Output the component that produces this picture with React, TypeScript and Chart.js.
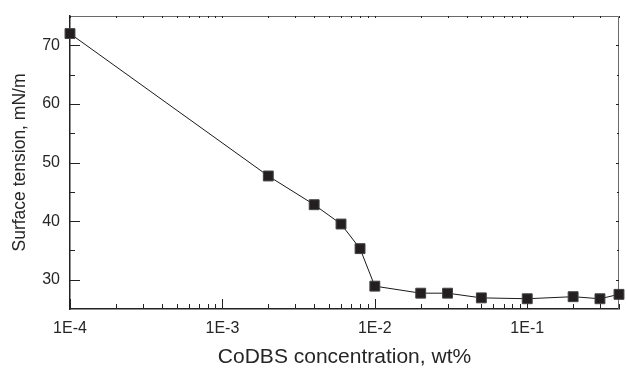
import React, { useEffect, useRef } from "react";
import { Chart, registerables } from "chart.js";

Chart.register(...registerables);

const concentrations = [1e-4, 2e-3, 4e-3, 6e-3, 8e-3, 1e-2, 2e-2, 3e-2, 5e-2, 1e-1, 2e-1, 3e-1, 4e-1];
const surfaceTension = [72, 47.7, 42.8, 39.5, 35.3, 28.9, 27.7, 27.7, 26.9, 26.75, 27.1, 26.75, 27.5];

const xTickValues = [1e-4, 1e-3, 1e-2, 1e-1];
const xTickLabels = ["1E-4", "1E-3", "1E-2", "1E-1"];
const yTickValues = [30, 40, 50, 60, 70];
const yMinorValues = [35, 45, 55, 65];
const xMin = 1e-4;
const xMax = 0.4;
const yMin = 25;
const yMax = 75;

const xTitle = "CoDBS concentration, wt%";
const yTitle = "Surface tension, mN/m";

const FONT = "'Liberation Sans', Arial, Helvetica, sans-serif";
const TEXT = "#262626";

function xMinorValues(): number[] {
  const out: number[] = [];
  for (let d = 1e-4; d < 1; d *= 10) {
    for (let m = 2; m <= 9; m++) {
      const v = m * d;
      if (v <= xMax * 1.0001) out.push(v);
    }
  }
  return out;
}

const tickPlugin = {
  id: "innerTicks",
  beforeDatasetsDraw(chart: any) {
    const { ctx, chartArea } = chart;
    const xs = chart.scales.x;
    const ys = chart.scales.y;
    const { left, right, top, bottom } = chartArea;
    ctx.save();
    ctx.strokeStyle = "#6a6a6a";
    ctx.lineWidth = 1;
    ctx.beginPath();
    ctx.moveTo(left, top + 0.5);
    ctx.lineTo(right - 0.5, top + 0.5);
    ctx.lineTo(right - 0.5, bottom);
    ctx.stroke();

    const drawX = (v: number, len: number, topLen: number) => {
      const px = Math.round(xs.getPixelForValue(v)) + 0.5;
      ctx.beginPath();
      ctx.moveTo(px, bottom);
      ctx.lineTo(px, bottom - len);
      ctx.stroke();
      ctx.beginPath();
      ctx.moveTo(px, top);
      ctx.lineTo(px, top + topLen);
      ctx.stroke();
    };
    const drawY = (v: number, len: number, rLen: number) => {
      const py = Math.round(ys.getPixelForValue(v)) + 0.5;
      ctx.beginPath();
      ctx.moveTo(left, py);
      ctx.lineTo(left + len, py);
      ctx.stroke();
      ctx.beginPath();
      ctx.moveTo(right, py);
      ctx.lineTo(right - rLen, py);
      ctx.stroke();
    };
    ctx.strokeStyle = "#222";
    ctx.lineWidth = 1;
    xTickValues.forEach((v) => drawX(v, 10, 2));
    xMinorValues().forEach((v) => drawX(v, 5, 2));
    yTickValues.forEach((v) => drawY(v, 10, 3));
    yMinorValues.forEach((v) => drawY(v, 5, 2));
    ctx.restore();
  },
};

export default function App() {
  const ref = useRef<HTMLCanvasElement | null>(null);
  useEffect(() => {
    if (!ref.current) return;
    const data = concentrations.map((x, i) => ({ x, y: surfaceTension[i] }));
    const chart = new Chart(ref.current, {
      type: "line",
      data: {
        datasets: [
          {
            data,
            borderColor: "#1a1a1a",
            borderWidth: 1,
            pointStyle: "rect",
            pointRadius: 7,
            pointBackgroundColor: "#231f20",
            pointBorderColor: "#444",
            pointBorderWidth: 1,
            tension: 0,
            clip: false as any,
          },
        ],
      },
      options: {
        responsive: false,
        animation: false,
        layout: { padding: { left: 0, top: 16, right: 1, bottom: 0 } },
        plugins: { legend: { display: false }, tooltip: { enabled: false } },
        scales: {
          x: {
            type: "logarithmic",
            min: xMin,
            max: xMax,
            grid: { display: false, drawTicks: false },
            border: { display: true, color: "#222", width: 1.5 },
            afterBuildTicks: (scale: any) => {
              scale.ticks = xTickValues.map((v) => ({ value: v }));
            },
            afterFit: (scale: any) => {
              scale.height = 59;
              scale.paddingLeft = 0;
              scale.paddingRight = 0;
            },
            ticks: {
              autoSkip: false,
              maxRotation: 0,
              padding: 10,
              color: TEXT,
              font: { family: FONT, size: 16 },
              callback: (v: any) => {
                const i = xTickValues.findIndex((t) => Math.abs(t - Number(v)) / t < 1e-6);
                return i >= 0 ? xTickLabels[i] : "";
              },
            },
            title: {
              display: true,
              text: xTitle,
              color: TEXT,
              font: { family: FONT, size: 21, lineHeight: 1 },
              padding: 0,
            },
          },
          y: {
            type: "linear",
            min: yMin,
            max: yMax,
            grid: { display: false, drawTicks: false },
            border: { display: true, color: "#222", width: 1.5 },
            afterBuildTicks: (scale: any) => {
              scale.ticks = yTickValues.map((v) => ({ value: v }));
            },
            afterFit: (scale: any) => {
              scale.width = 70;
              scale.paddingTop = 0;
              scale.paddingBottom = 0;
            },
            ticks: {
              padding: 10,
              color: TEXT,
              font: { family: FONT, size: 16 },
            },
            title: {
              display: true,
              text: yTitle,
              color: TEXT,
              font: { family: FONT, size: 17.5, lineHeight: 1.2 },
              padding: { top: 10, bottom: 0 },
            },
          },
        },
      },
      plugins: [tickPlugin],
    });
    return () => chart.destroy();
  }, []);
  return (
    <div style={{ position: "fixed", left: 0, top: 0, width: 627, height: 368, background: "#fff" }}>
      <canvas ref={ref} width={627} height={368} style={{ display: "block" }} />
    </div>
  );
}
